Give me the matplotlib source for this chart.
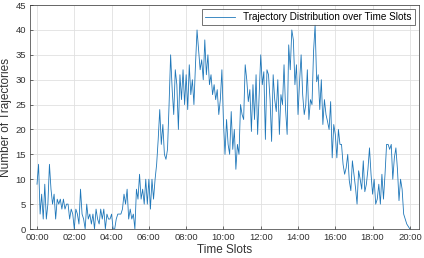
import numpy as np
import matplotlib
matplotlib.use("Agg")
import matplotlib.pyplot as plt

plt.rcParams.update({"font.family": ["Liberation Sans", "DejaVu Sans"]})

# trajectory counts per 5-minute slot, 00:00 -> 20:00 (one list per hour)
h00 = [9, 13, 3, 7, 2, 9, 2, 5, 13, 8, 5, 7]
h01 = [2, 6, 5, 6, 4, 6, 4, 5, 5, 2, 4, 3]
h02 = [0, 4, 3, 1, 8, 3, 2, 0, 5, 2, 3, 1]
h03 = [3, 0, 4, 2, 1, 4, 2, 4, 0, 3, 2, 2]
h04 = [3, 0, 0, 2, 3, 3, 3, 4, 7, 5, 8, 2]
h05 = [4, 2, 3, 0, 8, 6, 11, 6, 8, 5, 10, 5]
h06 = [10, 4, 10, 6, 10, 13, 18, 24, 17, 21, 15, 14]
h07 = [16, 25, 35, 28, 23, 32, 29, 20, 31, 26, 32, 25]
h08 = [31, 24, 33, 27, 30, 25, 33, 40, 36, 32, 34, 30]
h09 = [38, 31, 35, 29, 31, 27, 29, 26, 28, 23, 26, 32]
h10 = [21.6, 15, 22, 17, 15, 23.6, 16, 20, 12, 17, 15, 25]
h11 = [23, 22, 33, 30, 25.6, 28, 19.6, 29, 22, 31, 19, 27]
h12 = [35, 29, 31.6, 18, 32, 31, 26, 17.6, 31, 26, 23.6, 30]
h13 = [19, 27, 25, 33, 24, 19, 37, 32, 40, 38, 29, 33]
h14 = [23, 29.6, 35, 27, 23, 25, 32, 22, 26, 25, 35.7, 41]
h15 = [29.6, 31, 24, 30, 21, 26, 23, 21.6, 20, 25.6, 14.3, 21]
h16 = [19, 14.3, 20, 17, 17, 13, 11, 12.3, 15, 9.7, 7.7, 13.7]
h17 = [11, 8.3, 5, 11.7, 10, 8, 13.7, 7.5, 9, 12, 16.3, 11]
h18 = [7, 10, 5, 6, 9, 5, 11, 6, 11, 17, 17, 16]
h19 = [17, 10, 14.3, 16.3, 12, 5.7, 10, 8, 3, 2, 1, 0.5]
h20 = [0]

counts = h00 + h01 + h02 + h03 + h04 + h05 + h06 + h07 + h08 + h09 + \
    h10 + h11 + h12 + h13 + h14 + h15 + h16 + h17 + h18 + h19 + h20
hours = np.linspace(0, 20, len(counts))
tick_hours = [0, 2, 4, 6, 8, 10, 12, 14, 16, 18, 20]
tick_labels = ["00:00", "02:00", "04:00", "06:00", "08:00", "10:00",
               "12:00", "14:00", "16:00", "18:00", "20:00"]

fig = plt.figure(figsize=(4.24, 2.58), dpi=100)
ax = fig.add_axes([0.0708, 0.1124, 0.917, 0.868])
ax.plot(hours, counts, color="#1f77b9", lw=0.6,
        label="Trajectory Distribution over Time Slots")
ax.set_xlim(-0.375, 20.48)
ax.set_ylim(0, 45)
ax.set_xticks(tick_hours)
ax.set_xticklabels(tick_labels)
ax.set_yticks(range(0, 46, 5))
ax.grid(True, color="#e0e0e0", lw=0.6)
ax.set_axisbelow(True)
ax.tick_params(direction="in", labelsize=6.8, colors="#333333", length=2.5,
               width=0.5, pad=3)
for s in ax.spines.values():
    s.set_color("#333333")
    s.set_linewidth(0.5)
ax.set_xlabel("Time Slots", fontsize=8.5, color="#333333", labelpad=1)
ax.set_ylabel("Number of Trajectories", fontsize=8.5, color="#333333", labelpad=2)
leg = ax.legend(loc="upper right", fontsize=7.2, fancybox=False,
                borderaxespad=0.4, handlelength=3.0, borderpad=0.3)
leg.get_frame().set_edgecolor("#333333")
leg.get_frame().set_linewidth(0.6)
fig.savefig("out.png", dpi=100)
